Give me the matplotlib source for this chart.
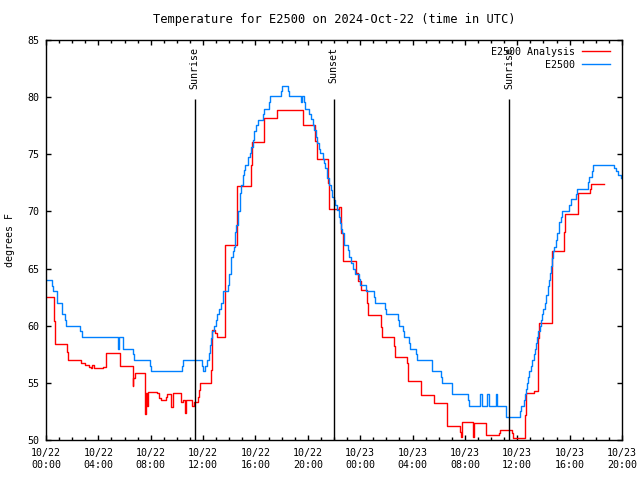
import numpy as np
import matplotlib
matplotlib.use("Agg")
import matplotlib.pyplot as plt
import matplotlib.dates as mdates

# hours since 2024-10-22 00:00 UTC and temperature (F), one point per step
analysis_hours = [0.00, 0.64, 0.70, 1.63, 1.70, 2.65, 2.98, 3.30, 3.45, 3.55, 3.65, 4.39, 4.59,
                  5.61, 5.68, 6.61, 6.68, 6.80, 7.58, 7.65, 7.70, 7.77, 8.47, 8.65, 8.80, 9.13,
                  9.23, 9.57, 9.67, 10.33, 10.50, 10.60, 10.66, 11.15, 11.33, 11.58, 11.66, 11.73,
                  12.60, 12.66, 12.72, 12.93, 13.06, 13.65, 14.62, 15.66, 15.75, 16.63, 17.65,
                  19.60, 20.58, 20.66, 21.55, 21.64, 22.40, 22.57, 22.65, 23.65, 23.72, 23.85,
                  24.03, 24.54, 24.62, 25.56, 25.65, 26.58, 26.66, 27.55, 27.65, 28.62, 29.64,
                  30.66, 31.63, 31.70, 31.78, 32.62, 32.70, 33.64, 34.61, 34.70, 35.63, 35.70,
                  36.60, 36.70, 37.28, 37.60, 37.67, 38.64, 39.59, 39.64, 40.61, 40.66, 41.58,
                  41.64, 42.60]
analysis_temp = [62.5, 60.4, 58.4, 57.7, 57.0, 56.7, 56.6, 56.4, 56.3, 56.6, 56.3, 56.4, 57.6,
                 57.0, 56.5, 54.7, 55.4, 55.9, 52.3, 54.1, 53.0, 54.2, 54.1, 53.7, 53.5, 53.8,
                 54.0, 52.9, 54.1, 53.3, 53.5, 52.4, 53.5, 53.0, 53.3, 53.8, 54.4, 55.0,
                 56.1, 57.9, 59.6, 59.4, 59.0, 67.1, 72.2, 74.1, 76.1, 78.2, 78.9,
                 77.6, 76.2, 74.6, 72.5, 70.2, 70.4, 68.1, 65.7, 65.0, 64.6, 63.9,
                 63.1, 62.0, 60.9, 59.9, 59.0, 58.2, 57.3, 56.7, 55.2, 53.9, 53.2,
                 51.2, 50.7, 50.3, 51.55, 50.3, 51.45, 50.4, 50.6, 50.9, 50.6, 50.15,
                 52.2, 54.15, 54.3, 58.9, 60.2, 66.5, 68.2, 69.8, 70.8, 71.6, 72.0,
                 72.4, 72.4]

obs_hours = [0.00, 0.43, 0.56, 0.85, 1.22, 1.47, 1.55, 2.63, 2.72, 5.48, 5.56, 5.86, 5.90,
             6.63, 6.70, 7.93, 8.00, 10.40, 10.46, 11.93, 11.98, 12.19, 12.27, 12.47, 12.52,
             12.60, 12.70, 12.82, 12.95, 13.07, 13.19, 13.33, 13.50, 13.90, 13.97, 14.02,
             14.10, 14.12, 14.17, 14.25, 14.33, 14.40, 14.45, 14.53, 14.63, 14.70, 14.78,
             14.83, 14.91, 15.01, 15.09, 15.14, 15.22, 15.47, 15.55, 15.68, 15.78, 15.86,
             16.04, 16.17, 16.58, 16.66, 17.03, 17.10, 17.95, 18.03, 18.50, 18.60, 19.47,
             19.55, 19.72, 19.77, 20.12, 20.27, 20.40, 20.48, 20.60, 20.73, 20.86, 20.91,
             21.17, 21.25, 21.33, 21.43, 21.50, 21.63, 21.76, 21.89, 21.96, 22.09, 22.20,
             22.35, 22.45, 22.53, 22.61, 22.73, 22.80, 23.06, 23.14, 23.32, 23.45, 23.62,
             23.88, 24.01, 24.45, 25.04, 25.10, 25.88, 25.95, 26.90, 26.96, 27.30, 27.37,
             27.72, 27.80, 28.25, 28.35, 29.45, 29.52, 30.20, 30.28, 30.99, 31.05, 32.27,
             32.35, 33.16, 33.29, 33.67, 33.85, 34.36, 34.41, 35.11, 35.15, 36.22, 36.28,
             36.52, 36.60, 36.70, 36.76, 36.84, 36.92, 37.05, 37.15, 37.25, 37.35, 37.43,
             37.52, 37.62, 37.70, 37.80, 37.92, 38.00, 38.12, 38.20, 38.33, 38.43, 38.50,
             38.58, 38.68, 38.76, 38.81, 38.94, 39.07, 39.15, 39.22, 39.35, 39.45, 39.99,
             40.07, 40.50, 40.57, 41.44, 41.51, 41.72, 41.82, 43.41, 43.55, 43.70, 43.90]
obs_temp = [64.0, 63.5, 63.0, 62.0, 61.0, 60.5, 60.0, 59.5, 59.0, 58.0, 59.0, 58.5, 58.0,
            57.5, 57.0, 56.5, 56.0, 56.5, 57.0, 56.5, 56.0, 56.5, 57.0, 57.6, 58.3,
            58.9, 59.5, 60.0, 60.5, 61.0, 61.5, 62.0, 63.0, 63.6, 64.0, 64.5,
            65.0, 65.5, 66.0, 66.5, 66.9, 67.8, 68.2, 68.8, 69.6, 70.0, 70.7,
            71.6, 72.3, 72.75, 73.2, 73.6, 74.06, 74.8, 75.1, 75.67, 76.25, 77.0,
            77.56, 78.0, 78.5, 79.0, 79.6, 80.1, 80.5, 81.0, 80.5, 80.1, 79.6,
            80.1, 79.6, 79.0, 78.5, 78.06, 77.56, 77.1, 76.5, 75.96, 75.5, 75.1,
            74.6, 74.2, 73.8, 73.3, 72.9, 72.3, 71.9, 71.3, 71.0, 70.56, 70.1,
            69.5, 69.0, 68.5, 68.1, 67.65, 67.06, 66.6, 66.04, 65.5, 65.0, 64.5,
            64.06, 63.56, 63.04, 62.5, 62.0, 61.5, 61.0, 60.5, 60.0, 59.5, 59.0,
            58.5, 58.0, 57.5, 57.0, 56.5, 56.0, 55.5, 55.0, 54.5, 54.0, 53.5,
            53.0, 54.0, 53.0, 54.0, 53.0, 54.0, 53.0, 52.5, 52.0, 52.5, 53.0,
            53.5, 54.0, 54.5, 55.0, 55.5, 56.0, 56.5, 57.0, 57.5, 58.0, 58.5,
            59.0, 59.5, 60.0, 60.5, 61.0, 61.5, 62.0, 62.7, 63.5, 64.0, 64.6,
            65.2, 65.9, 66.5, 66.9, 67.5, 68.1, 68.6, 69.1, 69.5, 70.0, 70.56,
            71.06, 71.5, 72.0, 72.55, 73.04, 73.56, 74.06, 73.8, 73.5, 73.2, 72.9]

sun_hours = [11.35, 21.98, 35.37]
sun_labels = ["Sunrise", "Sunset", "Sunrise"]

base = np.datetime64("2024-10-22T00:00")

def to_time(hours):
    return base + (np.array(hours) * 60).round().astype("timedelta64[m]")

plt.rcParams["font.family"] = ["DejaVu Sans Mono"]
plt.rcParams["font.size"] = 7.2

fig = plt.figure(figsize=(6.4, 4.8), dpi=100)
ax = fig.add_axes([46 / 640, 40 / 480, 576 / 640, 400 / 480])

ax.plot(to_time(analysis_hours), analysis_temp, drawstyle="steps-post",
        color="#ff0000", lw=1.0, label="E2500 Analysis")
ax.plot(to_time(obs_hours), obs_temp, drawstyle="steps-post",
        color="#0080ff", lw=1.0, label="         E2500")

for h, lab in zip(sun_hours, sun_labels):
    t = to_time([h])[0]
    ax.vlines(t, 50, 79.8, color="black", lw=1.0)
    ax.text(t, 84.4, lab, rotation=90, ha="center", va="top")

ax.set_xlim(base, base + np.timedelta64(44, "h"))
ax.set_ylim(50, 85)
ax.set_yticks(range(50, 86, 5))
ax.xaxis.set_major_locator(mdates.HourLocator(byhour=range(0, 24, 4)))
ax.xaxis.set_minor_locator(mdates.HourLocator())
ax.xaxis.set_major_formatter(mdates.DateFormatter("%m/%d\n%H:%M"))
ax.tick_params(which="both", direction="in", top=True, right=True, width=1.0)
ax.tick_params(which="major", length=3.6)
ax.tick_params(which="minor", length=2.0)
ax.tick_params(axis="y", pad=4.5)
ax.tick_params(axis="x", pad=6)
for s in ax.spines.values():
    s.set_linewidth(1.0)

ax.set_title("Temperature for E2500 on 2024-Oct-22 (time in UTC)", pad=12)
fig.text(10 / 640, 0.5, "degrees F", rotation=90, ha="center", va="center")

ax.legend(loc="upper right", bbox_to_anchor=(0.979, 0.983), frameon=False,
          markerfirst=False, handlelength=2.8, handletextpad=0.7,
          borderpad=0, borderaxespad=0, labelspacing=0.3)

fig.savefig("out.png", dpi=100)
